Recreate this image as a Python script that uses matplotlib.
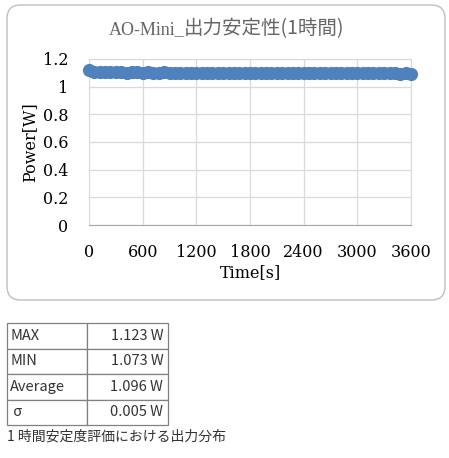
import numpy as np
import matplotlib
matplotlib.use('Agg')
import matplotlib.pyplot as plt
from matplotlib.patches import FancyBboxPatch

plt.rcParams['font.family'] = ['DejaVu Serif', 'Noto Sans CJK JP']

# 1-hour output stability data (one point read every 60 s)
time_s = list(range(0, 3601, 60))
power_w = [1.118, 1.106, 1.104, 1.105, 1.103, 1.104, 1.103, 1.102, 1.104, 1.103,
           1.102, 1.103, 1.101, 1.102, 1.103, 1.101, 1.100, 1.102, 1.101, 1.100,
           1.101, 1.100, 1.099, 1.101, 1.100, 1.099, 1.100, 1.101, 1.099, 1.100,
           1.099, 1.098, 1.100, 1.099, 1.098, 1.099, 1.100, 1.098, 1.099, 1.098,
           1.097, 1.099, 1.098, 1.097, 1.098, 1.099, 1.097, 1.098, 1.097, 1.096,
           1.098, 1.097, 1.096, 1.097, 1.098, 1.096, 1.097, 1.096, 1.095, 1.096,
           1.095]

x_ticks = [0, 600, 1200, 1800, 2400, 3000, 3600]
y_ticks = [0, 0.2, 0.4, 0.6, 0.8, 1, 1.2]
y_labels = ['0', '0.2', '0.4', '0.6', '0.8', '1', '1.2']

stat_names = ['MAX', 'MIN', 'Average', ' σ']
stat_values = ['1.123 W', '1.073 W', '1.096 W', '0.005 W']

title_latin = 'AO-Mini_'
title_jp = '出力安定性(1時間)'
caption = '1 時間安定度評価における出力分布'

W, H = 449, 458
fig = plt.figure(figsize=(W / 100, H / 100), dpi=100)

# rounded chart frame
frame = FancyBboxPatch((7 / W, 1 - 300 / H), 438 / W, 295 / H,
                       boxstyle='round,pad=0,rounding_size=0.03',
                       transform=fig.transFigure, facecolor='white',
                       edgecolor='#bfbfbf', linewidth=1.0, zorder=-5)
fig.patches.append(frame)

ax = fig.add_axes([89 / W, 1 - 225 / H, 322 / W, 166 / H])
ax.patch.set_alpha(0)
ax.plot(time_s, power_w, 'o', color='#4f81bd', markersize=9.5,
        markeredgewidth=0, zorder=3, clip_on=False)
ax.set_xlim(0, 3600)
ax.set_ylim(0, 1.2)
ax.set_xticks(x_ticks)
ax.set_yticks(y_ticks)
ax.set_yticklabels(y_labels)
ax.grid(True, color='#d9d9d9', linewidth=0.9)
ax.set_axisbelow(True)
for s in ['top', 'right', 'left']:
    ax.spines[s].set_color('#d9d9d9')
ax.spines['bottom'].set_color('#a6a6a6')
ax.tick_params(length=0, labelsize=11.5, colors='black')
ax.tick_params(axis='x', pad=14)
ax.tick_params(axis='y', pad=15)
ax.set_xlabel('Time[s]', fontsize=11.5, labelpad=2)
ax.set_ylabel('Power[W]', fontsize=11.5, labelpad=3)

# title: latin part in serif, japanese part in CJK font
fig.text(184 / W, 1 - 34 / H, title_latin, ha='right', va='baseline',
         fontsize=13, family='Liberation Serif', color='#666666')
fig.text(184 / W, 1 - 34 / H, title_jp, ha='left', va='baseline',
         fontsize=14, family=['Noto Sans CJK JP', 'DejaVu Sans'],
         color='#666666')

# stats table
tax = fig.add_axes([7 / W, 1 - 425 / H, 161 / W, 102 / H])
tax.axis('off')
tbl = tax.table(cellText=[[n, v] for n, v in zip(stat_names, stat_values)],
                bbox=[0, 0, 1, 1], colWidths=[80, 81])
tbl.auto_set_font_size(False)
for (r, c), cell in tbl.get_celld().items():
    cell.set_edgecolor('#808080')
    cell.set_linewidth(0.9)
    txt = cell.get_text()
    txt.set_fontsize(10.5)
    txt.set_fontfamily(['Noto Sans CJK JP', 'DejaVu Sans'])
    txt.set_color('#333333')
    if c == 0:
        cell.set_text_props(ha='left')
        cell.PAD = 0.04
    else:
        cell.set_text_props(ha='right')
        cell.PAD = 0.06
    if r == 3 and c == 0:
        txt.set_fontstyle('italic')

fig.text(7 / W, 1 - 437 / H, caption, ha='left', va='center', fontsize=10,
         family=['Noto Sans CJK JP', 'DejaVu Sans'], color='#333333')

fig.savefig('out.png', dpi=100)
